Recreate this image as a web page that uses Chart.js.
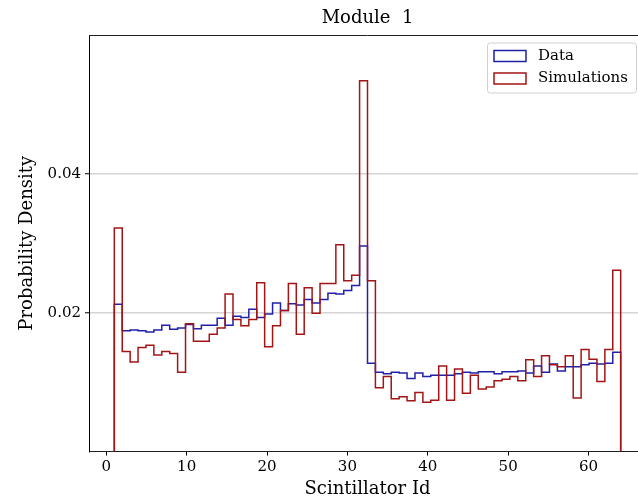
<!DOCTYPE html>
<html><head><meta charset="utf-8">
<script src="https://cdn.jsdelivr.net/npm/chart.js@4.4.0/dist/chart.umd.min.js"></script>
<style>html,body{margin:0;padding:0;background:#fff;overflow:hidden;width:638px;height:500px}canvas{display:block}</style>
</head><body>
<canvas id="c" width="660" height="500"></canvas>
<script>
const chartTitle = 'Module  1';
const xLabel = 'Scintillator Id';
const yLabel = 'Probability Density';
const seriesNames = ['Data', 'Simulations'];
const scintillatorIds = [1,2,3,4,5,6,7,8,9,10,11,12,13,14,15,16,17,18,19,20,21,22,23,24,25,26,27,28,29,30,31,32,
  33,34,35,36,37,38,39,40,41,42,43,44,45,46,47,48,49,50,51,52,53,54,55,56,57,58,59,60,61,62,63,64];
const histRange = [1, 64];
const dataValues = [
  0.0212,0.0174,0.0175,0.0174,0.0172,0.0175,0.0182,0.0176,0.0178,0.0183,0.0177,0.0182,0.0182,0.0192,0.0182,0.0195,
  0.0193,0.0205,0.0193,0.0198,0.0214,0.0203,0.0213,0.0211,0.0219,0.0214,0.0219,0.0228,0.0227,0.0232,0.0239,0.0296,
  0.0127,0.0114,0.0112,0.0114,0.0113,0.0105,0.0113,0.0108,0.0110,0.0110,0.0110,0.0112,0.0114,0.0113,0.0115,0.0115,
  0.0112,0.0115,0.0115,0.0116,0.0113,0.0123,0.0114,0.0126,0.0116,0.0122,0.0122,0.0125,0.0127,0.0126,0.0127,0.0143];
const simValues = [
  0.0322,0.0144,0.0129,0.0150,0.0153,0.0139,0.0144,0.0141,0.0114,0.0184,0.0159,0.0159,0.0169,0.0178,0.0227,0.0190,
  0.0181,0.0190,0.0243,0.0151,0.0181,0.0203,0.0242,0.0169,0.0236,0.0199,0.0242,0.0242,0.0298,0.0246,0.0254,0.0534,
  0.0246,0.0092,0.0108,0.0076,0.0079,0.0073,0.0085,0.0071,0.0074,0.0123,0.0074,0.0119,0.0084,0.0110,0.0090,0.0093,
  0.0102,0.0104,0.0108,0.0102,0.0132,0.0108,0.0138,0.0125,0.0122,0.0138,0.0077,0.0147,0.0133,0.0101,0.0147,0.0261];
const xTickValues = [0,10,20,30,40,50,60];
const yTickValues = [0.02,0.04];

const dataColor = '#2020a8';
const simColor = '#a31515';

function stepPoints(values) {
  const w = (histRange[1] - histRange[0]) / scintillatorIds.length;
  const pts = [{x: histRange[0], y: 0}];
  scintillatorIds.forEach((id, i) => pts.push({x: histRange[0] + (id - 1) * w, y: values[i]}));
  pts.push({x: histRange[1], y: values[values.length - 1]});
  pts.push({x: histRange[1], y: 0});
  return pts;
}

Chart.defaults.font.family = '"DejaVu Serif", serif';
Chart.defaults.color = '#000';

const framePlugin = {
  id: 'frame',
  afterDatasetsDraw(chart) {
    const {ctx, chartArea: a} = chart;
    ctx.save();
    ctx.strokeStyle = '#222';
    ctx.lineWidth = 1;
    ctx.beginPath();
    ctx.moveTo(a.left, a.top + 0.5);
    ctx.lineTo(a.right, a.top + 0.5);
    ctx.stroke();
    ctx.restore();
  },
  afterDraw(chart) {
    const {ctx, chartArea: a} = chart;
    ctx.save();
    // title centred over the plot area
    ctx.font = '18px "DejaVu Serif"';
    ctx.fillStyle = '#000';
    ctx.textAlign = 'center';
    ctx.textBaseline = 'middle';
    ctx.fillText(chartTitle, (a.left + a.right) / 2, 18);
    ctx.textAlign = 'left';
    // legend
    const order = [1, 0];
    const bx = 487.5, by = 43, bw = 149, bh = 50, r = 3;
    ctx.fillStyle = 'rgba(255,255,255,0.85)';
    ctx.strokeStyle = '#d0d0d0';
    ctx.lineWidth = 1;
    ctx.beginPath();
    ctx.moveTo(bx + r, by);
    ctx.lineTo(bx + bw - r, by);
    ctx.arcTo(bx + bw, by, bx + bw, by + r, r);
    ctx.lineTo(bx + bw, by + bh - r);
    ctx.arcTo(bx + bw, by + bh, bx + bw - r, by + bh, r);
    ctx.lineTo(bx + r, by + bh);
    ctx.arcTo(bx, by + bh, bx, by + bh - r, r);
    ctx.lineTo(bx, by + r);
    ctx.arcTo(bx, by, bx + r, by, r);
    ctx.closePath();
    ctx.fill();
    ctx.stroke();
    ctx.font = '15px "DejaVu Serif"';
    ctx.textBaseline = 'middle';
    ctx.fillStyle = '#000';
    order.forEach((di, k) => {
      const ds = chart.data.datasets[di];
      const cy = 56 + k * 22.5;
      ctx.strokeStyle = ds.borderColor;
      ctx.lineWidth = 1.5;
      ctx.strokeRect(494, cy - 5.5, 32, 11);
      ctx.fillText(ds.label, 538, cy);
    });
    ctx.restore();
  }
};

new Chart(document.getElementById('c'), {
  type: 'line',
  data: {
    datasets: [
      {label: seriesNames[1], data: stepPoints(simValues), borderColor: simColor, borderWidth: 1.5,
       stepped: 'before', pointRadius: 0, fill: false, borderJoinStyle: 'miter', borderCapStyle: 'butt'},
      {label: seriesNames[0], data: stepPoints(dataValues), borderColor: dataColor, borderWidth: 1.5,
       stepped: 'before', pointRadius: 0, fill: false, borderJoinStyle: 'miter', borderCapStyle: 'butt'}
    ]
  },
  options: {
    responsive: false,
    animation: false,
    layout: {padding: {left: 0, right: 14, top: 35, bottom: 0}},
    plugins: {
      legend: {display: false},
      tooltip: {enabled: false},
      title: {display: false}
    },
    scales: {
      x: {
        type: 'linear', min: -2.15, max: 67.15,
        afterBuildTicks: s => { s.ticks = xTickValues.map(v => ({value: v})); },
        afterFit: s => { s.height = 48.5; },
        ticks: {font: {size: 15}, padding: 3, maxRotation: 0, callback: v => String(v)},
        grid: {drawOnChartArea: false, tickColor: '#000', tickLength: 4, tickWidth: 1},
        border: {color: '#222', width: 1},
        title: {display: true, text: xLabel, font: {size: 18}, padding: {top: 0, bottom: 0}}
      },
      y: {
        type: 'linear', min: 0, max: 0.06,
        afterBuildTicks: s => { s.ticks = yTickValues.map(v => ({value: v})); },
        afterFit: s => { s.width = 89; },
        ticks: {font: {size: 15}, padding: 4, callback: v => v.toFixed(2)},
        grid: {color: '#d4d4d4', lineWidth: 1.5, tickColor: '#000', tickLength: 4, tickWidth: 1},
        border: {color: '#000', width: 1},
        title: {display: true, text: yLabel, font: {size: 18}, padding: {top: 17, bottom: 0}}
      }
    }
  },
  plugins: [framePlugin]
});
</script>
</body></html>
